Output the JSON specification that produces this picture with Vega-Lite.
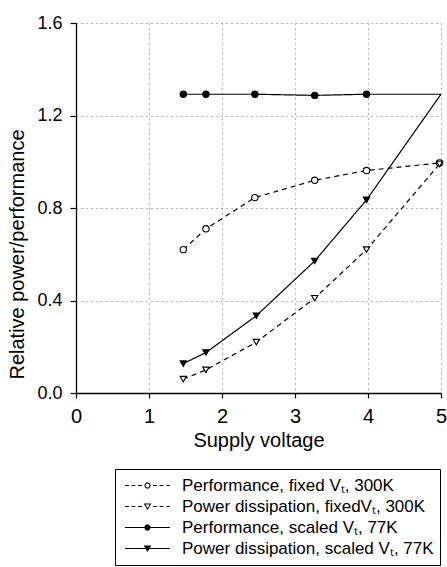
{
  "$schema": "https://vega.github.io/schema/vega-lite/v6.json",
  "autosize": {"type": "none"},
  "padding": {"left": 76, "top": 23, "right": 6, "bottom": 174},
  "width": 365,
  "height": 370,
  "background": "white",
  "config": {
    "view": {"stroke": null},
    "font": "Liberation Sans",
    "axis": {
      "domainColor": "black", "domainWidth": 1.3, "tickColor": "black", "tickWidth": 1.2,
      "labelColor": "black", "titleColor": "black", "labelFont": "Liberation Sans", "titleFont": "Liberation Sans",
      "titleFontWeight": "normal", "gridColor": "#666", "gridDash": [1, 4], "gridWidth": 1
    }
  },
  "data": {
    "values": [
      {"series": "Performance, fixed Vₜ, 300K", "v": 1.47, "p": 0.62},
      {"series": "Performance, fixed Vₜ, 300K", "v": 1.78, "p": 0.71},
      {"series": "Performance, fixed Vₜ, 300K", "v": 2.45, "p": 0.845},
      {"series": "Performance, fixed Vₜ, 300K", "v": 3.27, "p": 0.92},
      {"series": "Performance, fixed Vₜ, 300K", "v": 3.98, "p": 0.962},
      {"series": "Performance, fixed Vₜ, 300K", "v": 4.98, "p": 0.995},
      {"series": "Power dissipation, fixedVₜ, 300K", "v": 1.47, "p": 0.06},
      {"series": "Power dissipation, fixedVₜ, 300K", "v": 1.78, "p": 0.10},
      {"series": "Power dissipation, fixedVₜ, 300K", "v": 2.47, "p": 0.22},
      {"series": "Power dissipation, fixedVₜ, 300K", "v": 3.27, "p": 0.41},
      {"series": "Power dissipation, fixedVₜ, 300K", "v": 3.98, "p": 0.62},
      {"series": "Power dissipation, fixedVₜ, 300K", "v": 4.98, "p": 0.99},
      {"series": "Performance, scaled Vₜ, 77K", "v": 1.47, "p": 1.292},
      {"series": "Performance, scaled Vₜ, 77K", "v": 1.78, "p": 1.292},
      {"series": "Performance, scaled Vₜ, 77K", "v": 2.45, "p": 1.292},
      {"series": "Performance, scaled Vₜ, 77K", "v": 3.27, "p": 1.287},
      {"series": "Performance, scaled Vₜ, 77K", "v": 3.98, "p": 1.292},
      {"series": "Performance, scaled Vₜ, 77K", "v": 5.0, "p": 1.292},
      {"series": "Power dissipation, scaled Vₜ, 77K", "v": 1.47, "p": 0.127},
      {"series": "Power dissipation, scaled Vₜ, 77K", "v": 1.78, "p": 0.175},
      {"series": "Power dissipation, scaled Vₜ, 77K", "v": 2.47, "p": 0.334},
      {"series": "Power dissipation, scaled Vₜ, 77K", "v": 3.27, "p": 0.571},
      {"series": "Power dissipation, scaled Vₜ, 77K", "v": 3.98, "p": 0.835},
      {"series": "Power dissipation, scaled Vₜ, 77K", "v": 5.0, "p": 1.292}
    ]
  },
  "encoding": {
    "x": {
      "field": "v", "type": "quantitative",
      "scale": {"domain": [0, 5], "nice": false, "zero": false},
      "axis": {
        "title": "Supply voltage", "values": [0, 1, 2, 3, 4, 5], "format": "d",
        "labelFontSize": 20, "titleFontSize": 20, "tickSize": 5, "labelPadding": 8,
        "titlePadding": 4, "grid": true, "labelFlush": false
      }
    },
    "y": {
      "field": "p", "type": "quantitative",
      "scale": {"domain": [0, 1.6], "nice": false},
      "axis": {
        "title": "Relative power/performance", "values": [0, 0.4, 0.8, 1.2, 1.6], "format": ".1f",
        "labelFontSize": 18, "titleFontSize": 20, "tickSize": 6, "labelPadding": 8,
        "titlePadding": 9, "titleY": 231, "grid": true
      }
    }
  },
  "layer": [
    {
      "mark": {"type": "line", "color": "black", "strokeWidth": 1.2},
      "encoding": {
        "detail": {"field": "series", "type": "nominal"},
        "strokeDash": {
          "condition": {"test": "indexof(datum.series, '300K') >= 0", "value": [5, 4]},
          "value": [1, 0]
        }
      }
    },
    {
      "transform": [{"filter": "datum.v < 4.99 || indexof(datum.series, '300K') >= 0"}],
      "mark": {"type": "point", "filled": true, "stroke": "black", "strokeWidth": 1.1, "size": 40, "opacity": 1},
      "encoding": {
        "shape": {
          "condition": {"test": "indexof(datum.series, 'Performance') >= 0", "value": "circle"},
          "value": "triangle-down"
        },
        "fill": {
          "condition": {"test": "indexof(datum.series, '77K') >= 0", "value": "black"},
          "value": "white"
        }
      }
    },
    {
      "transform": [{"filter": "false"}],
      "mark": {"type": "point", "filled": true, "color": "black", "strokeWidth": 0, "size": 2025, "opacity": 1},
      "encoding": {
        "shape": {
          "field": "series", "type": "nominal",
          "scale": {
            "domain": ["Performance, fixed Vₜ, 300K", "Power dissipation, fixedVₜ, 300K", "Performance, scaled Vₜ, 77K", "Power dissipation, scaled Vₜ, 77K"],
            "range": [
              "M-1,-0.024L-0.83,-0.024L-0.83,0.024L-1,0.024ZM-0.71,-0.024L-0.54,-0.024L-0.54,0.024L-0.71,0.024ZM-0.42,-0.024L-0.25,-0.024L-0.25,0.024L-0.42,0.024ZM0.25,-0.024L0.42,-0.024L0.42,0.024L0.25,0.024ZM0.54,-0.024L0.71,-0.024L0.71,0.024L0.54,0.024ZM0.83,-0.024L1,-0.024L1,0.024L0.83,0.024ZM0.14,0L0.121,0.07L0.07,0.121L0,0.14L-0.07,0.121L-0.121,0.07L-0.14,0L-0.121,-0.07L-0.07,-0.121L0,-0.14L0.07,-0.121L0.121,-0.07ZM0.09,0L0.078,-0.045L0.045,-0.078L0,-0.09L-0.045,-0.078L-0.078,-0.045L-0.09,0L-0.078,0.045L-0.045,0.078L0,0.09L0.045,0.078L0.078,0.045Z",
              "M-1,-0.024L-0.83,-0.024L-0.83,0.024L-1,0.024ZM-0.71,-0.024L-0.54,-0.024L-0.54,0.024L-0.71,0.024ZM-0.42,-0.024L-0.25,-0.024L-0.25,0.024L-0.42,0.024ZM0.25,-0.024L0.42,-0.024L0.42,0.024L0.25,0.024ZM0.54,-0.024L0.71,-0.024L0.71,0.024L0.54,0.024ZM0.83,-0.024L1,-0.024L1,0.024L0.83,0.024ZM-0.17,-0.13L0.17,-0.13L0,0.16ZM-0.094,-0.086L0,0.073L0.094,-0.086Z",
              "M-1,-0.024L1,-0.024L1,0.024L-1,0.024ZM0.14,0L0.121,0.07L0.07,0.121L0,0.14L-0.07,0.121L-0.121,0.07L-0.14,0L-0.121,-0.07L-0.07,-0.121L0,-0.14L0.07,-0.121L0.121,-0.07Z",
              "M-1,-0.024L1,-0.024L1,0.024L-1,0.024ZM-0.17,-0.13L0.17,-0.13L0,0.16Z"
            ]
          },
          "legend": {
            "title": null, "orient": "none", "legendX": 39, "legendY": 446,
            "symbolSize": 2025, "symbolOffset": 4, "symbolFillColor": "black", "symbolStrokeWidth": 0,
            "symbolOpacity": 1,
            "labelOffset": 12, "labelFontSize": 17, "labelFont": "Liberation Sans",
            "labelColor": "black", "labelLimit": 0, "padding": 6, "strokeColor": "black", "rowPadding": 0,
            "clipHeight": 21
          }
        }
      }
    }
  ]
}
